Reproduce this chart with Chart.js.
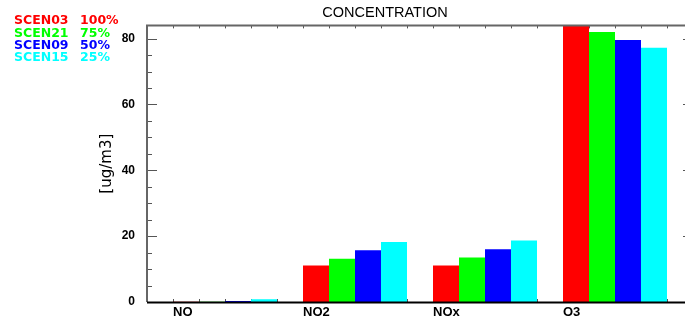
<!DOCTYPE html>
<html>
<head>
<meta charset="utf-8">
<title>CONCENTRATION</title>
<script src="https://cdn.jsdelivr.net/npm/chart.js@4/dist/chart.umd.min.js"></script>
<style>
  html, body { margin: 0; padding: 0; background: #fff; overflow: hidden; }
  #wrap { position: relative; width: 700px; height: 324px; }
</style>
</head>
<body>
<div id="wrap"><canvas id="conc"></canvas></div>
<script>
// species on the x axis
const species = ['NO', 'NO2', 'NOx', 'O3'];

// scenarios and their share, one bar per scenario in each group
const scenarios = ['SCEN03', 'SCEN21', 'SCEN09', 'SCEN15'];
const shares = ['100%', '75%', '50%', '25%'];
const colors = ['#ff0000', '#00ff00', '#0000ff', '#00ffff'];

// concentration [ug/m3] per species, one array per scenario
const scen03 = [0.05, 11.05, 11.05, 84.3];
const scen21 = [0.1, 13.1, 13.5, 82.0];
const scen09 = [0.3, 15.7, 16.0, 79.6];
const scen15 = [0.8, 18.2, 18.65, 77.2];
const series = [scen03, scen21, scen09, scen15];

// axis ranges and ticks
const xRange = [-0.6, 3.6];
const xMinorStep = 0.2;
const yRange = [0, 84];
const yTicks = [0, 20, 40, 60, 80];
const yMinorStep = 5;

// inward tick marks on all four sides, under the bars
const tickMarks = {
  id: 'tickMarks',
  beforeDatasetsDraw(chart) {
    const { ctx, chartArea: a, scales: { x, y } } = chart;
    ctx.save();
    ctx.strokeStyle = '#555';
    ctx.lineWidth = 1;
    ctx.beginPath();
    for (let v = xRange[0]; v <= xRange[1] + 1e-9; v += xMinorStep) {
      const px = Math.round(x.getPixelForValue(v)) + 0.5;
      ctx.moveTo(px, a.bottom); ctx.lineTo(px, a.bottom - 3);
      ctx.moveTo(px, a.top); ctx.lineTo(px, a.top + 3);
    }
    for (let v = yRange[0]; v <= yRange[1]; v += yMinorStep) {
      const py = Math.round(y.getPixelForValue(v)) + 0.5;
      const len = v % 20 === 0 ? 10 : 5;
      ctx.moveTo(a.left, py); ctx.lineTo(a.left + len, py);
      ctx.moveTo(a.right, py); ctx.lineTo(a.right - len, py);
    }
    ctx.stroke();
    ctx.restore();
  },
  afterDatasetsDraw(chart) {
    const { ctx, chartArea: a } = chart;
    ctx.save();
    ctx.strokeStyle = '#666';
    ctx.lineWidth = 2;
    ctx.beginPath();
    ctx.moveTo(a.left, a.bottom); ctx.lineTo(a.left, a.top);
    ctx.lineTo(a.right, a.top); ctx.lineTo(a.right, a.bottom);
    ctx.stroke();
    ctx.strokeStyle = '#000';
    ctx.beginPath();
    ctx.moveTo(a.left, a.bottom + 0.5); ctx.lineTo(a.right, a.bottom + 0.5);
    ctx.stroke();
    ctx.restore();
  }
};

// scenario legend in the top left corner, two columns of coloured text
const scenarioLegend = {
  id: 'scenarioLegend',
  afterDraw(chart) {
    const ctx = chart.ctx;
    ctx.save();
    ctx.font = 'bold 12.5px "DejaVu Sans"';
    ctx.textBaseline = 'middle';
    ctx.textAlign = 'left';
    scenarios.forEach((name, i) => {
      const ty = 21 + i * 12.4;
      ctx.fillStyle = colors[i];
      ctx.fillText(name, 14, ty);
      ctx.fillText(shares[i], 80, ty);
    });
    ctx.restore();
  }
};

new Chart(document.getElementById('conc'), {
  type: 'bar',
  data: {
    datasets: series.map((vals, i) => ({
      label: scenarios[i] + ' ' + shares[i],
      data: vals.map((v, k) => ({ x: k, y: v })),
      backgroundColor: colors[i],
      borderWidth: 0,
      categoryPercentage: 0.8,
      barPercentage: 1.0
    }))
  },
  options: {
    responsive: true,
    maintainAspectRatio: false,
    animation: false,
    layout: { padding: { left: 77, right: 7, top: 0, bottom: 0 } },
    plugins: {
      legend: { display: false },
      tooltip: { enabled: false },
      title: {
        display: true,
        text: 'CONCENTRATION',
        color: '#000',
        font: { family: '"Liberation Sans", Arial, sans-serif', size: 14.5, weight: 'normal' },
        padding: { top: 4, bottom: 4 }
      }
    },
    scales: {
      x: {
        type: 'linear',
        offset: false,
        min: xRange[0],
        max: xRange[1],
        grid: { display: false, drawTicks: false, offset: false },
        border: { display: false },
        afterBuildTicks: s => { s.ticks = species.map((_, i) => ({ value: i - 0.4 })); },
        afterFit: s => { s.height = 22; },
        ticks: {
          align: 'start',
          autoSkip: false,
          maxRotation: 0,
          padding: 3,
          color: '#000',
          font: { family: '"Liberation Sans", Arial, sans-serif', size: 13, weight: 'bold' },
          callback: (v, i) => species[i]
        }
      },
      y: {
        min: yRange[0],
        max: yRange[1],
        grid: { display: false, drawTicks: false },
        border: { display: false },
        afterBuildTicks: s => { s.ticks = yTicks.map(v => ({ value: v })); },
        afterFit: s => { s.width = 70; },
        ticks: {
          padding: 12,
          color: '#000',
          font: { family: '"Liberation Sans", Arial, sans-serif', size: 12, weight: 'bold' }
        },
        title: {
          display: true,
          text: '[ug/m3]',
          color: '#000',
          font: { family: '"DejaVu Sans", sans-serif', size: 15 },
          padding: { top: 21, bottom: 0 }
        }
      }
    }
  },
  plugins: [tickMarks, scenarioLegend]
});
</script>
</body>
</html>
